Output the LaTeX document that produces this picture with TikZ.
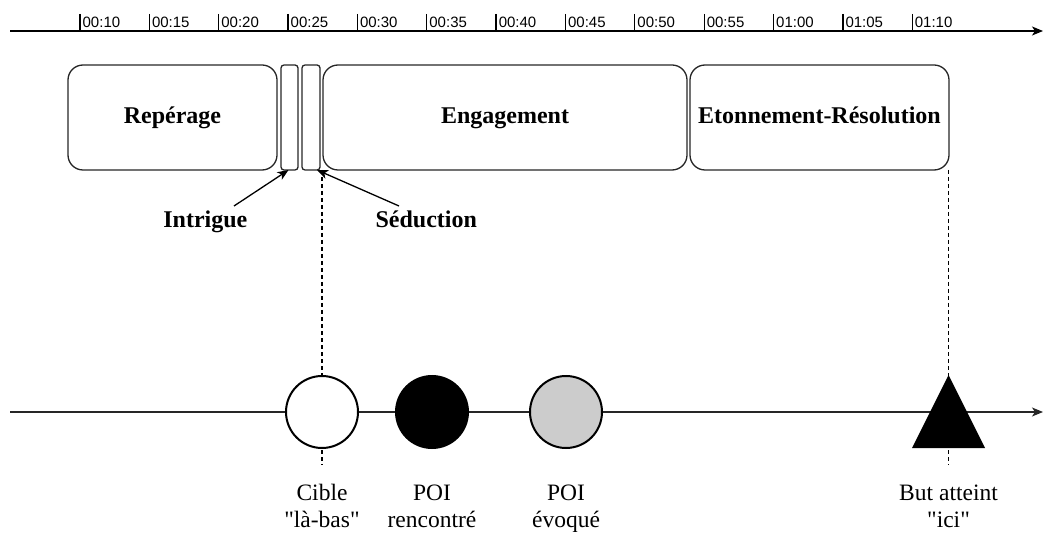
\documentclass[tikz,border=0pt]{standalone}
\usepackage{fontspec}
\setmainfont{Liberation Serif}
\newfontfamily\capfont{Liberation Serif}
\newfontfamily\ticksf{Liberation Sans}
\usetikzlibrary{positioning, arrows.meta}

\begin{document}
\begin{tikzpicture}[x=1pt, y=-1pt, line width=1.3pt,
        pointer/.style={-{Stealth[length=11pt, width=9pt, inset=3pt]}},
        phase/.style={draw=black!85, rounded corners=15pt, minimum height=105pt,
                      text height=17pt, text depth=5pt,
                      inner sep=0pt, outer sep=0pt, font=\fontsize{24}{27}\selectfont\bfseries},
        slim/.style={draw=black!85, rounded corners=3pt, minimum height=105pt,
                     inner sep=0pt, outer sep=0pt},
        poi/.style={circle, draw, line width=2pt, minimum size=72pt, inner sep=0pt, outer sep=0pt},
        tag/.style={inner sep=4pt, font=\fontsize{24}{27}\selectfont\bfseries},
        caption/.style={align=center, inner sep=0pt, font=\capfont\fontsize{23.5}{27}\selectfont},
        trace/.style={dash pattern=on 4pt off 3pt, line width=1.2pt}]
    \useasboundingbox (0,0) rectangle (1043,534);
    % time axis
    \coordinate (tl) at (10,31);
    \coordinate (tr) at (1043,31);
    \draw[pointer] (tl) -- (tr);
    \foreach \t [count=\xi from 0] in {00:10,00:15,00:20,00:25,00:30,00:35,00:40,
                                       00:45,00:50,00:55,01:00,01:05,01:10}
        \draw (80+69.35*\xi,14) -- (80+69.35*\xi,31)
              node[right, inner sep=2pt, font=\ticksf\fontsize{15}{15}\selectfont]
              at (80+69.35*\xi,22) (t\xi) {\t};
    % phases
    \node (rep) [phase, minimum width=209pt] at (172.5,117.5) {Repérage};
    \node (intr) [slim, minimum width=17pt, right=4pt of rep] {};
    \node (sed) [slim, minimum width=18pt, right=4pt of intr] {};
    \node (eng) [phase, minimum width=364pt, right=3pt of sed] {Engagement};
    \node (eto) [phase, minimum width=259pt, right=3pt of eng] {Etonnement-Résolution};
    \node (intrtxt) [tag, below left=36pt and 29pt of intr] {Intrigue};
    \node (sedtxt) [tag, below right=36pt and 51pt of sed] {Séduction};
    \draw[pointer] ([xshift=-18pt]intrtxt.north east) -- ([xshift=-1pt]intr.south);
    \draw[pointer] ([xshift=28pt]sedtxt.north west) -- ([xshift=6pt]sed.south);
    % path axis
    \coordinate (bl) at (10,412);
    \coordinate (br) at (1043,412);
    \coordinate (goal) at (948.5,412);
    \coordinate (cibx) at (322,412);
    \draw[trace] (cibx |- sed.south) -- ([yshift=-53pt]cibx);
    \draw[trace] (goal |- eto.south) -- ([yshift=-53pt]goal);
    \draw[pointer, black!85] (bl) -- (br);
    \node (cib) [poi, fill=white] at (cibx) {};
    \node (met) [poi, fill=black, right=38pt of cib] {};
    \node (evo) [poi, fill=black!20, right=62pt of met] {};
    \fill (goal) ++(0,-37) -- ++(36.5,73) -- ++(-73,0) -- cycle;
    %
    \node (cibtxt) [caption, below=36pt of cib] {Cible\\"là-bas"};
    \node (mettxt) [caption, below=36pt of met] {POI\\rencontré};
    \node (evotxt) [caption, below=36pt of evo] {POI\\évoqué};
    \node (goaltxt) [caption, below=72pt of goal] {But atteint\\"ici"};
\end{tikzpicture}
\end{document}
